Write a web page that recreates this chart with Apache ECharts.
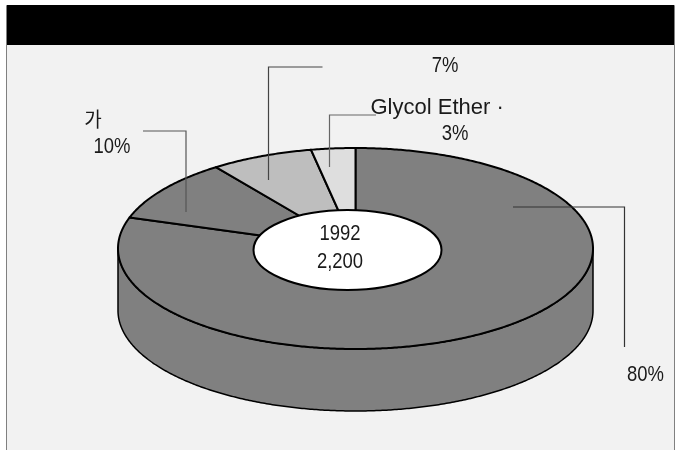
<!DOCTYPE html>
<html>
<head>
<meta charset="utf-8">
<style>html,body{margin:0;padding:0;background:#fff}#c{width:685px;height:450px}</style>
<script src="https://cdn.jsdelivr.net/npm/echarts@6/dist/echarts.min.js"></script>
</head>
<body>
<div id="c"></div>
<script>
// Data, clockwise from 12 o'clock
const categories = ['80%', '가', '7%', 'Glycol Ether ·'];
const shares = [80, 10, 7, 3];
const sliceColors = ['#808080', '#808080', '#bebebe', '#dedede'];
const centerLines = ['1992', '2,200'];

const FONT = '22px "Liberation Sans", "Noto Sans CJK KR", sans-serif';
const CX = 355.5, CY = 248.5, RX = 237.5, RY = 100.5, DEPTH = 62;
const total = shares.reduce((a, b) => a + b, 0);

function pt(deg, dy) {
  const t = deg * Math.PI / 180;
  return [CX + RX * Math.sin(t), CY - RY * Math.cos(t) + (dy || 0)];
}
function arc(a, b, dy) {
  const pts = [], n = Math.max(2, Math.ceil(Math.abs(b - a) * 2));
  for (let i = 0; i <= n; i++) pts.push(pt(a + (b - a) * i / n, dy));
  return pts;
}

function renderItem(params, api) {
  const before = shares.slice(0, params.dataIndex).reduce((a, b) => a + b, 0);
  const a = before / total * 360;
  const b = a + api.value(0) / total * 360;
  const children = [];
  const w0 = Math.max(a, 90), w1 = Math.min(b, 270);
  if (w1 > w0) {
    children.push({
      type: 'polygon',
      shape: { points: arc(w0, w1, 0).concat(arc(w1, w0, DEPTH)) },
      style: { fill: sliceColors[params.dataIndex], stroke: '#000', lineWidth: 1.5, lineJoin: 'round' }
    });
  }
  children.push({
    type: 'polygon',
    shape: { points: [[CX, CY]].concat(arc(a, b, 0)) },
    style: { fill: sliceColors[params.dataIndex], stroke: '#000', lineWidth: 2, lineJoin: 'round' }
  });
  return { type: 'group', children };
}

function leader(points, color) {
  return { type: 'polyline', z: 20, shape: { points }, style: { fill: null, stroke: color, lineWidth: 1.2 } };
}
function label(text, x, y, scaleX, align, font) {
  return {
    type: 'text', z: 30, x, y, scaleX: scaleX || 0.84,
    style: { text, font: font || FONT, fill: '#1a1a1a', align: align || 'center', verticalAlign: 'middle' }
  };
}

const chart = echarts.init(document.getElementById('c'));
chart.setOption({
  animation: false,
  backgroundColor: '#fff',
  graphic: { elements: [
    { type: 'rect', z: -10, shape: { x: 6.5, y: 5.5, width: 668, height: 460 },
      style: { fill: '#f2f2f2', stroke: '#808080', lineWidth: 1 } },
    { type: 'rect', z: -9, shape: { x: 7, y: 5, width: 667, height: 40 }, style: { fill: '#000' } },
    leader([[513, 207], [624.5, 207], [624.5, 347]], '#333'),
    leader([[143, 131], [186, 131], [186, 212]], '#555'),
    leader([[322.5, 67], [268.5, 67], [268.5, 180]], '#444'),
    leader([[376, 115], [329.5, 115], [329.5, 167]], '#666'),
    { type: 'ellipse', z: 25, shape: { cx: 347.5, cy: 250, rx: 94, ry: 40 },
      style: { fill: '#fff', stroke: '#000', lineWidth: 2 } },
    label(centerLines[0], 340, 234),
    label(centerLines[1], 340, 262),
    label(categories[0], 645.5, 375),
    label(categories[1], 93, 119, 0.95, 'center', '20px "Noto Sans CJK KR", sans-serif'),
    label(shares[1] + '%', 112, 147),
    label(categories[2], 445, 66),
    label(categories[3], 370.5, 107.5, 1, 'left'),
    label(shares[3] + '%', 455, 134)
  ] },
  series: [{
    type: 'custom',
    coordinateSystem: 'none',
    z: 2,
    silent: true,
    renderItem,
    data: shares.map(v => [v])
  }]
});
</script>
</body>
</html>
